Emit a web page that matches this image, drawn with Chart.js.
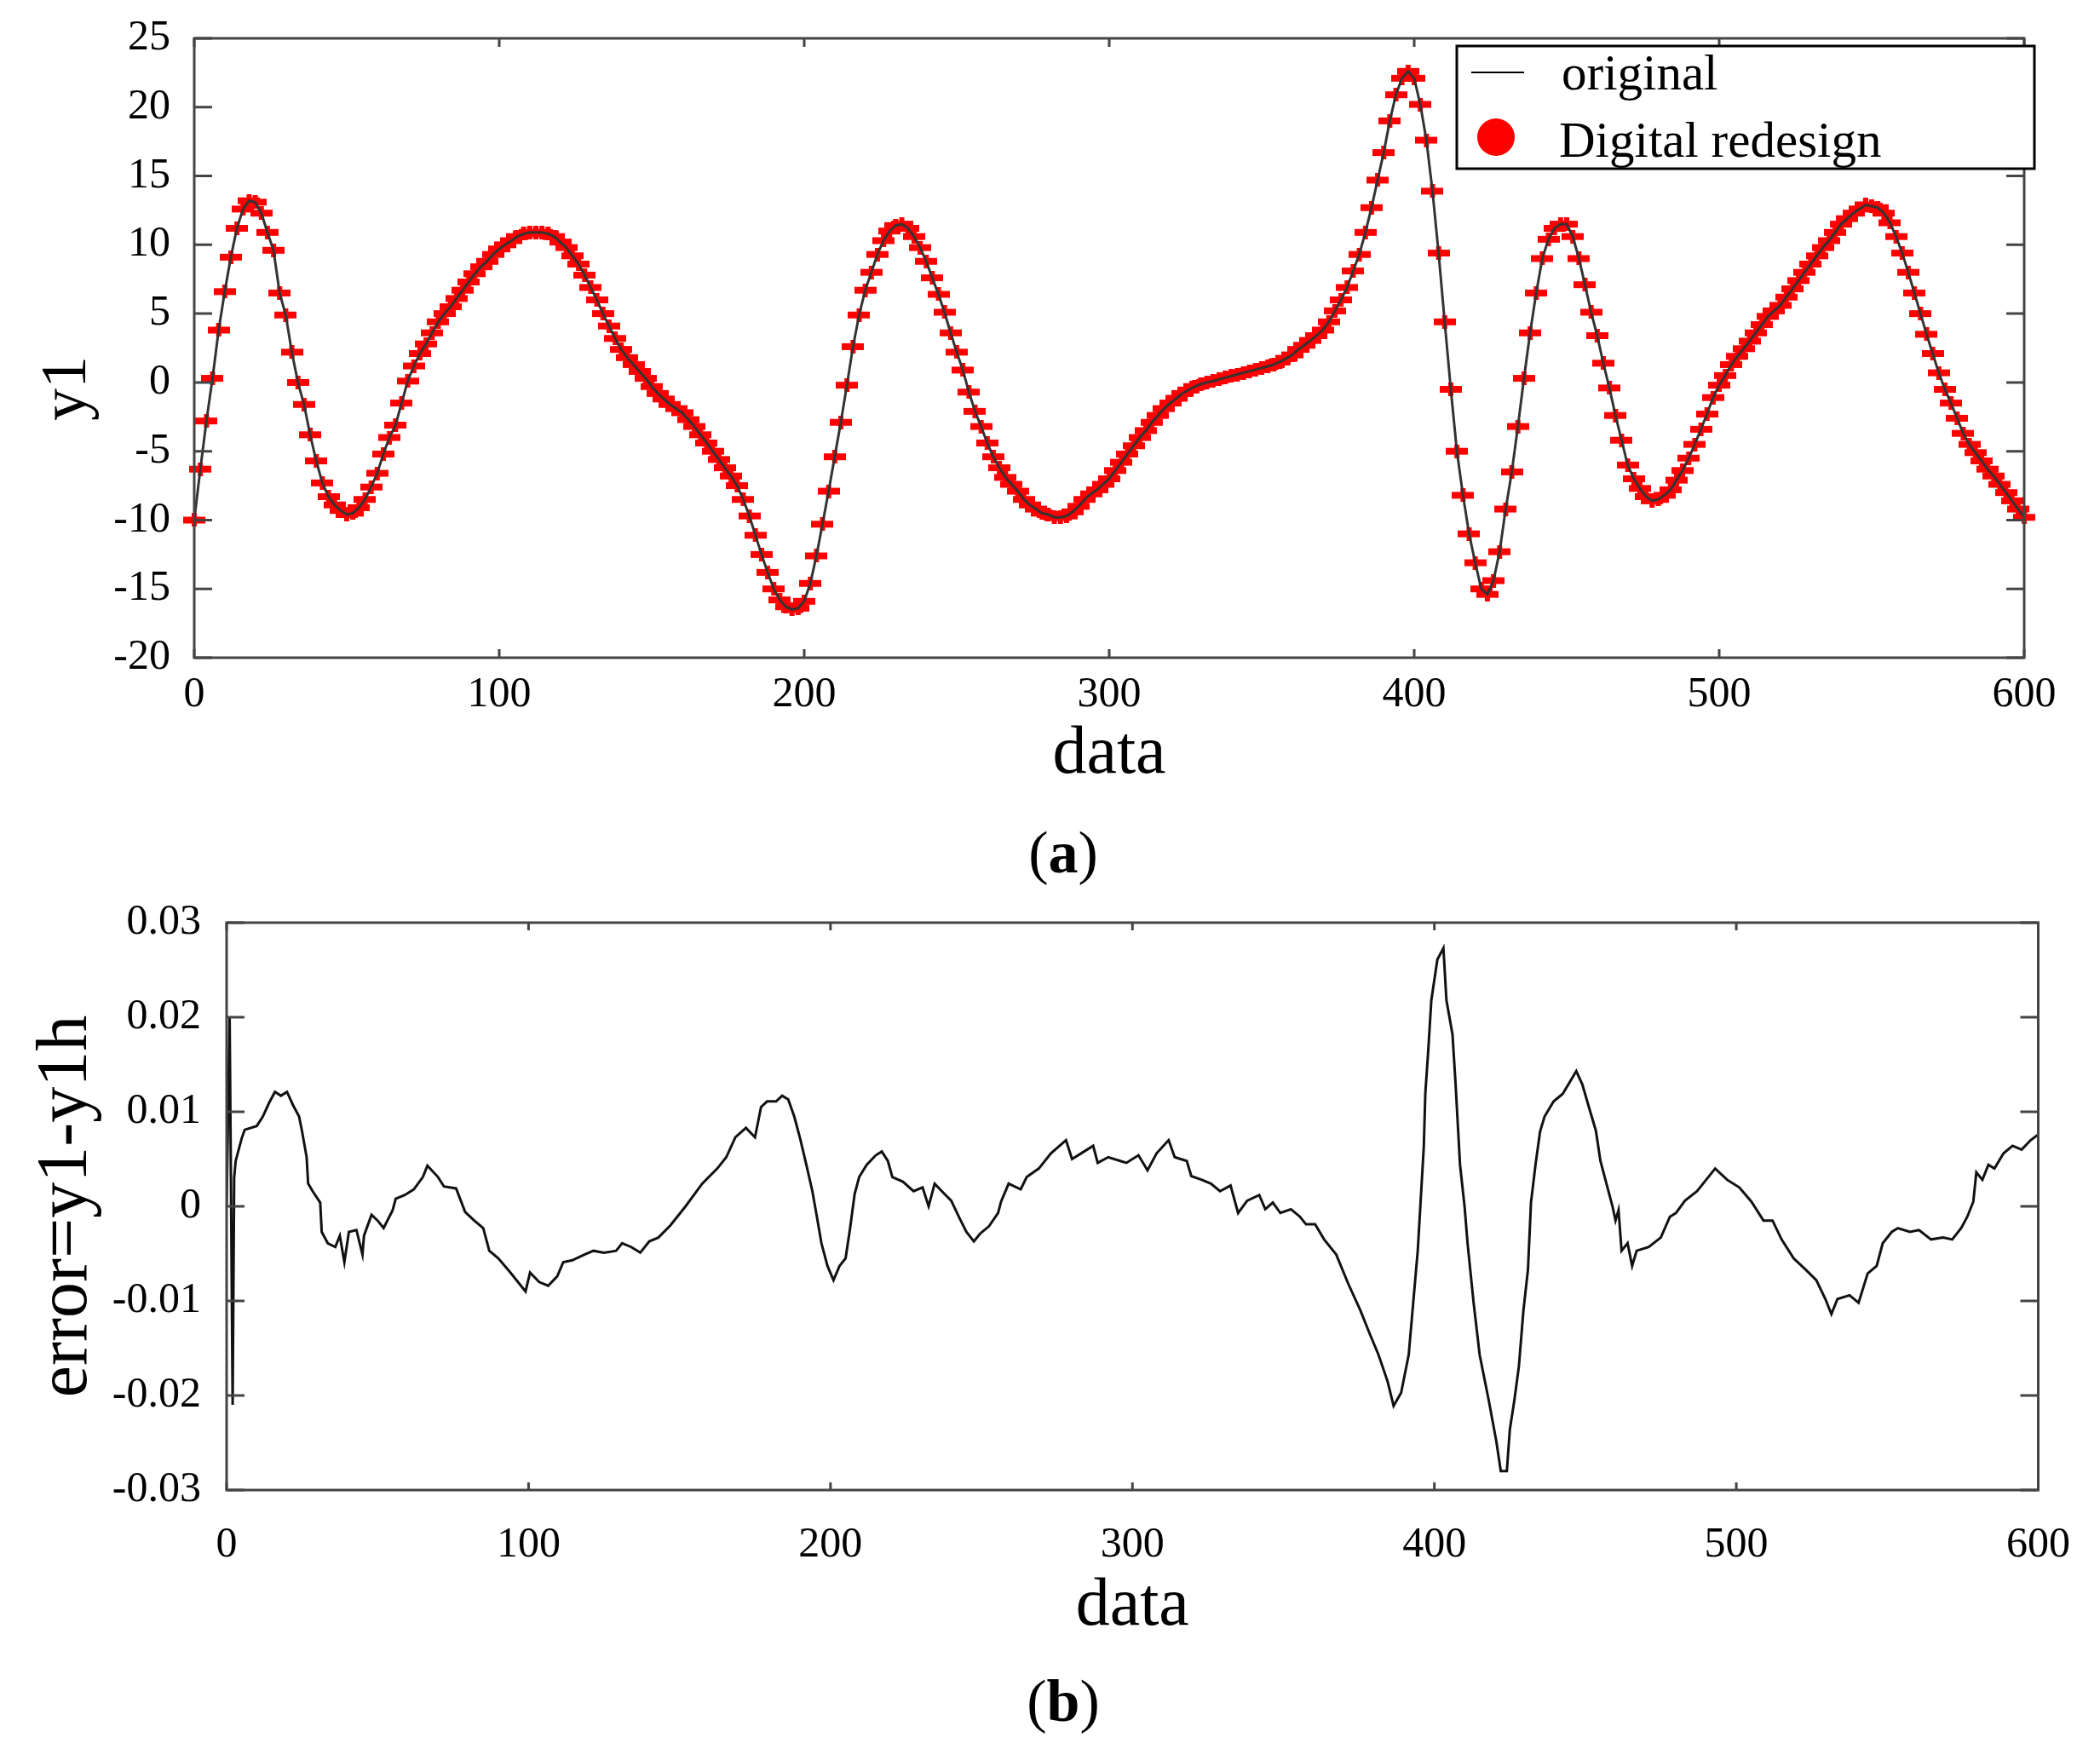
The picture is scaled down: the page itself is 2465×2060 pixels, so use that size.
<!DOCTYPE html>
<html>
<head>
<meta charset="utf-8">
<script src="https://cdn.jsdelivr.net/npm/chart.js@4.4.1/dist/chart.umd.min.js"></script>
<style>
  body { margin: 0; background: #fff; width: 2465px; height: 2060px; position: relative; overflow: hidden; font-family: "Liberation Serif", serif; }
  #c1 { position: absolute; left: 0; top: 0; }
  #c2 { position: absolute; left: 0; top: 1000px; }
  .cap { position: absolute; left: 1098px; width: 300px; height: 70px; line-height: 70px; text-align: center; font-size: 70px; color: #000; }
</style>
</head>
<body>
<canvas id="c1" width="2465" height="926"></canvas>
<canvas id="c2" width="2465" height="926"></canvas>
<div class="cap" style="top:966px">(<b>a</b>)</div>
<div class="cap" style="top:1962px">(<b>b</b>)</div>
<script>
// (a) y1, read every 2 samples from x = 0 to 600
const y1Step = 2;
const y1Values = [
  -10.0, -6.3, -2.8, 0.3, 3.8, 6.6, 9.1, 11.2, 12.6, 13.2,
  13.1, 12.3, 10.9, 9.6, 6.5, 4.9, 2.2, 0.0, -1.6, -3.8,
  -5.7, -7.3, -8.3, -8.9, -9.3, -9.6, -9.5, -9.1, -8.5, -7.6,
  -6.6, -5.2, -4.0, -3.1, -1.5, 0.1, 1.2, 2.1, 2.8, 3.6,
  4.4, 5.0, 5.5, 6.1, 6.7, 7.3, 7.9, 8.4, 8.8, 9.3,
  9.7, 10.0, 10.3, 10.6, 10.8, 10.9, 10.9, 10.9, 10.8, 10.6,
  10.2, 9.8, 9.2, 8.6, 7.8, 6.9, 6.0, 5.0, 4.1, 3.2,
  2.4, 1.8, 1.3, 0.8, 0.3, -0.3, -0.8, -1.2, -1.6, -1.9,
  -2.2, -2.7, -3.2, -3.8, -4.4, -5.0, -5.6, -6.2, -6.8, -7.5,
  -8.5, -9.7, -11.1, -12.5, -13.8, -15.0, -15.8, -16.3, -16.5, -16.4,
  -15.9, -14.6, -12.6, -10.3, -7.9, -5.4, -2.9, -0.2, 2.6, 4.9,
  6.7, 8.0, 9.3, 10.3, 11.0, 11.4, 11.5, 11.2, 10.6, 9.8,
  8.8, 7.6, 6.4, 5.1, 3.6, 2.2, 0.9, -0.7, -2.1, -3.2,
  -4.4, -5.4, -6.2, -6.9, -7.4, -7.9, -8.5, -8.9, -9.2, -9.5,
  -9.6, -9.8, -9.8, -9.7, -9.4, -9.0, -8.5, -8.1, -7.8, -7.4,
  -7.0, -6.4, -5.8, -5.2, -4.6, -4.0, -3.5, -2.9, -2.4, -1.9,
  -1.5, -1.15, -0.8, -0.55, -0.3, -0.12, 0.0, 0.1, 0.22, 0.34,
  0.46, 0.58, 0.7, 0.82, 0.93, 1.05, 1.17, 1.3, 1.5, 1.75,
  2.0, 2.4, 2.7, 3.05, 3.4, 3.8, 4.4, 5.2, 6.0, 6.9,
  8.1, 9.3, 10.9, 12.7, 14.7, 16.7, 19.0, 20.9, 22.1, 22.6,
  22.1, 20.2, 17.6, 13.9, 9.4, 4.4, -0.5, -5.0, -8.2, -11.0,
  -13.1, -15.0, -15.4, -14.4, -12.3, -9.2, -6.5, -3.2, 0.3, 3.6,
  6.5, 9.0, 10.4, 11.2, 11.5, 11.5, 10.6, 9.0, 7.1, 5.1,
  3.4, 1.4, -0.4, -2.4, -4.2, -6.0, -7.0, -7.7, -8.3, -8.6,
  -8.5, -8.2, -7.8, -7.1, -6.4, -5.5, -4.5, -3.4, -2.3, -1.1,
  -0.2, 0.5, 1.3, 1.9, 2.45, 3.0, 3.6, 4.2, 4.8, 5.2,
  5.6, 6.2, 6.8, 7.4, 8.0, 8.6, 9.2, 9.8, 10.3, 10.9,
  11.5, 11.9, 12.3, 12.6, 12.9, 12.8, 12.7, 12.3, 11.6, 10.6,
  9.4, 8.0, 6.5, 5.0, 3.5, 2.1, 0.7, -0.5, -1.5, -2.6,
  -3.7, -4.5, -5.1, -5.7, -6.3, -6.8, -7.4, -8.0, -8.6, -9.2,
  -9.8
];

// (b) error = y1 - y1h
const errX = [
  0, 1, 1.5, 2, 2.5, 3, 5, 6, 10, 12,
  14, 16, 18, 20, 22, 24, 25, 26.5, 27, 28.5,
  31, 31.5, 33.5, 36, 37.5, 39, 40.5, 43, 45, 45.5,
  48, 50, 52, 55, 56, 59, 62, 65, 66.5, 70,
  72, 76, 79, 82, 85, 87, 90, 94, 99, 100.5,
  103.5, 106.5, 109.5, 111.5, 114.5, 118.5, 121.5, 125, 129, 131,
  134, 137, 140, 143, 147, 152, 157.5, 162.5, 165.5, 168.5,
  172, 175, 177, 179, 182, 184, 186, 188, 190, 192,
  194, 195.5, 197, 199, 201, 203, 205, 206.5, 208, 209.5,
  212, 215, 217, 219, 220.5, 224, 227.5, 230.5, 232.5, 234.5,
  237.5, 240, 242.5, 245, 247.5, 249.5, 252.5, 255.5, 256.5, 259,
  263, 265, 269, 273, 278, 280, 284, 287, 288.5, 292,
  296, 298, 302, 305, 308, 312, 314, 318, 319.5, 323,
  326, 329, 332.5, 335, 338, 342, 344, 346.5, 349, 352.5,
  355.5, 357.5, 360.5, 363.5, 367.5, 371.5, 375.5, 378.5, 381.5, 384.5,
  386.5, 389, 391.5, 393, 394.5, 395.5, 396.5, 397, 398, 399,
  401, 403, 404, 406, 407, 408.5, 410, 411, 413, 415,
  418, 420.5, 422, 424, 425, 426.5, 428, 429.5, 431, 432,
  433.5, 435, 436.5, 439.5, 442.5, 445.5, 447, 449, 451, 453.5,
  455, 457, 459, 460, 461, 462, 464, 465.5, 467, 471,
  475, 478, 480, 483, 487, 490, 493, 497, 501, 505,
  509, 512, 515, 519, 523, 526.5, 529.5, 531.5, 533.5, 537.5,
  540.5, 543.5, 546.5, 548.5, 551.5, 553.5, 557.5, 560.5, 564.5, 568.5,
  571.5, 574.5, 576.5, 578.5, 579.5, 581.5, 583.5, 585.5, 588.5, 591.5,
  594.5, 597.5, 600
];
const errY = [
  0, 0.020, 0.000, -0.021, 0.003, 0.0048, 0.0072, 0.0081, 0.0085, 0.0095,
  0.0109, 0.0121, 0.0117, 0.0121, 0.0107, 0.0095, 0.0079, 0.0052, 0.0024, 0.0016,
  0.0004, -0.0027, -0.0039, -0.0043, -0.0031, -0.0059, -0.0027, -0.0025, -0.0051, -0.0031,
  -0.0009, -0.0015, -0.0023, -0.0004, 0.0008, 0.0012, 0.0018, 0.0031, 0.0043, 0.0031,
  0.0021, 0.0019, -0.0006, -0.0015, -0.0023, -0.0047, -0.0055, -0.0070, -0.0090, -0.0070,
  -0.0080, -0.0084, -0.0074, -0.0059, -0.0057, -0.0051, -0.0047, -0.0049, -0.0047, -0.0039,
  -0.0043, -0.0049, -0.0037, -0.0033, -0.0020, 0.0000, 0.0024, 0.0040, 0.0052, 0.0073,
  0.0083, 0.0073, 0.0105, 0.0111, 0.0111, 0.0117, 0.0113, 0.0095, 0.0071, 0.0044,
  0.0016, -0.0011, -0.0039, -0.0063, -0.0078, -0.0063, -0.0055, -0.0023, 0.0013, 0.0031,
  0.0044, 0.0054, 0.0058, 0.0048, 0.0031, 0.0026, 0.0016, 0.0020, 0.0000, 0.0024,
  0.0014, 0.0006, -0.0011, -0.0027, -0.0037, -0.0029, -0.0021, -0.0007, 0.0005, 0.0024,
  0.0018, 0.0031, 0.0040, 0.0056, 0.0070, 0.0050, 0.0058, 0.0064, 0.0046, 0.0052,
  0.0048, 0.0046, 0.0054, 0.0038, 0.0056, 0.0070, 0.0052, 0.0048, 0.0032, 0.0028,
  0.0024, 0.0016, 0.0022, -0.0007, 0.0006, 0.0012, -0.0003, 0.0004, -0.0007, -0.0003,
  -0.0011, -0.0019, -0.0019, -0.0035, -0.0051, -0.0082, -0.0110, -0.0134, -0.0157, -0.0185,
  -0.0211, -0.0197, -0.0157, -0.0102, -0.0047, 0.0008, 0.0063, 0.0119, 0.0166, 0.0218,
  0.0261, 0.0273, 0.0218, 0.0182, 0.0131, 0.0044, 0.0000, -0.0039, -0.0102, -0.0157,
  -0.0205, -0.0248, -0.0280, -0.0280, -0.0236, -0.0205, -0.0169, -0.0110, -0.0067, 0.0004,
  0.0044, 0.0079, 0.0095, 0.0111, 0.0119, 0.0135, 0.0143, 0.0129, 0.0107, 0.0080,
  0.0048, 0.0024, 0.0000, -0.0015, -0.0004, -0.0047, -0.0039, -0.0063, -0.0047, -0.0043,
  -0.0033, -0.0011, -0.0007, 0.0006, 0.0016, 0.0028, 0.0040, 0.0028, 0.0020, 0.0005,
  -0.0015, -0.0015, -0.0035, -0.0055, -0.0067, -0.0078, -0.0098, -0.0114, -0.0098, -0.0094,
  -0.0102, -0.0071, -0.0063, -0.0039, -0.0027, -0.0023, -0.0027, -0.0025, -0.0035, -0.0033,
  -0.0035, -0.0023, -0.0011, 0.0005, 0.0036, 0.0028, 0.0044, 0.0040, 0.0056, 0.0064,
  0.0060, 0.0070, 0.0076
];

const seriesNames = ['original', 'Digital redesign'];
const FONT = '"Liberation Serif", serif';

// small red dash marker like the figure's
function makeMarker() {
  const c = document.createElement('canvas');
  c.width = 26; c.height = 16;
  const g = c.getContext('2d');
  g.fillStyle = '#ff0000';
  g.fillRect(0, 4, 26, 8);
  g.fillRect(10, 0, 6, 16);
  return c;
}

// box around the plot with inward ticks on all four sides
const framePlugin = {
  id: 'frame',
  afterDatasetsDraw(chart, args, o) {
    const { ctx, chartArea: a, scales: { x, y } } = chart;
    ctx.save();
    ctx.strokeStyle = o.color;
    ctx.lineWidth = o.width;
    ctx.strokeRect(a.left, a.top, a.right - a.left, a.bottom - a.top);
    ctx.beginPath();
    x.ticks.forEach(t => {
      const px = x.getPixelForValue(t.value);
      ctx.moveTo(px, a.bottom); ctx.lineTo(px, a.bottom - o.xLen);
      ctx.moveTo(px, a.top); ctx.lineTo(px, a.top + o.xLen);
    });
    y.ticks.forEach(t => {
      const py = y.getPixelForValue(t.value);
      ctx.moveTo(a.left, py); ctx.lineTo(a.left + o.yLen, py);
      ctx.moveTo(a.right, py); ctx.lineTo(a.right - o.yLen, py);
    });
    ctx.stroke();
    ctx.restore();
  }
};

// boxed legend in the top right corner
const boxLegend = {
  id: 'boxLegend',
  afterDraw(chart, args, o) {
    if (!o.show) return;
    const { ctx, chartArea: a } = chart;
    const ds = chart.data.datasets;
    const left = a.right - 666, top = a.top + 9;
    ctx.save();
    ctx.fillStyle = '#fff';
    ctx.fillRect(left, top, 678, 144);
    ctx.strokeStyle = '#000';
    ctx.lineWidth = 3;
    ctx.strokeRect(left, top, 678, 144);
    ctx.lineWidth = 2;
    ctx.beginPath();
    ctx.moveTo(left + 17, top + 31); ctx.lineTo(left + 79, top + 31);
    ctx.stroke();
    ctx.fillStyle = '#ff0000';
    ctx.beginPath();
    ctx.arc(left + 46, top + 107, 22, 0, Math.PI * 2);
    ctx.fill();
    ctx.fillStyle = '#000';
    ctx.font = '59px ' + FONT;
    ctx.textBaseline = 'alphabetic';
    ctx.fillText(ds[0].label, left + 123, top + 51);
    ctx.fillText(ds[1].label, left + 120, top + 130);
    ctx.restore();
  }
};

function axes(o) {
  const tickFont = { family: FONT, size: 50, lineHeight: 1.2 };
  return {
    x: {
      type: 'linear', min: 0, max: 600,
      ticks: { stepSize: 100, font: tickFont, color: '#000', padding: o.xPad, maxRotation: 0 },
      grid: { display: false, drawTicks: false },
      border: { display: false },
      title: { display: true, text: 'data', color: '#000', padding: 0, font: { family: FONT, size: 80, lineHeight: 1 } },
      afterFit(s) { s.height = o.xH; }
    },
    y: {
      type: 'linear', min: o.yMin, max: o.yMax,
      ticks: { stepSize: o.yStep, font: tickFont, color: '#000', padding: o.yPad, callback: o.fmt },
      grid: { display: false, drawTicks: false },
      border: { display: false },
      title: { display: true, text: o.yTitle, color: '#000', padding: 0, font: { family: FONT, size: o.yTitleSize, lineHeight: 1 } },
      // fixed width, and no extra room reserved above/below for the end labels
      afterFit(s) { s.width = o.yW; s.paddingTop = 0; s.paddingBottom = 0; }
    }
  };
}

const y1Points = y1Values.map((v, i) => ({ x: i * y1Step, y: v }));
const errPoints = errX.map((x, i) => ({ x: x, y: errY[i] }));

new Chart(document.getElementById('c1'), {
  type: 'line',
  data: {
    datasets: [
      { label: seriesNames[0], data: y1Points, borderColor: '#333', borderWidth: 3, pointRadius: 0, tension: 0, order: 0 },
      { label: seriesNames[1], data: y1Points, showLine: false, pointStyle: makeMarker(), pointRadius: 10, clip: false, order: 1 }
    ]
  },
  options: {
    responsive: false, animation: false, devicePixelRatio: 1,
    layout: { padding: { left: 42, top: 45, right: 89, bottom: 0 } },
    plugins: {
      legend: { display: false }, tooltip: { enabled: false },
      frame: { color: '#444', width: 3, xLen: 10, yLen: 21 },
      boxLegend: { show: true }
    },
    // trailing space keeps "y1" sitting a little below the axis middle, as in the figure
    scales: axes({ xPad: 14, xH: 154, yMin: -20, yMax: 25, yStep: 5, yPad: 28, yW: 186, yTitle: 'y1\u2003 ', yTitleSize: 76 })
  },
  plugins: [framePlugin, boxLegend]
});

new Chart(document.getElementById('c2'), {
  type: 'line',
  data: {
    datasets: [
      { label: 'error', data: errPoints, borderColor: '#111', borderWidth: 3, pointRadius: 0, tension: 0 }
    ]
  },
  options: {
    responsive: false, animation: false, devicePixelRatio: 1,
    layout: { padding: { left: 37, top: 83, right: 69, bottom: 0 } },
    plugins: {
      legend: { display: false }, tooltip: { enabled: false },
      frame: { color: '#444', width: 3, xLen: 9, yLen: 21 },
      boxLegend: { show: false }
    },
    scales: axes({
      xPad: 35, xH: 177, yMin: -0.03, yMax: 0.03, yStep: 0.01, yPad: 30, yW: 229,
      yTitle: 'error=y1-y1h', yTitleSize: 84,
      fmt: v => String(Number(v.toFixed(2)))
    })
  },
  plugins: [framePlugin, boxLegend]
});
</script>
</body>
</html>
